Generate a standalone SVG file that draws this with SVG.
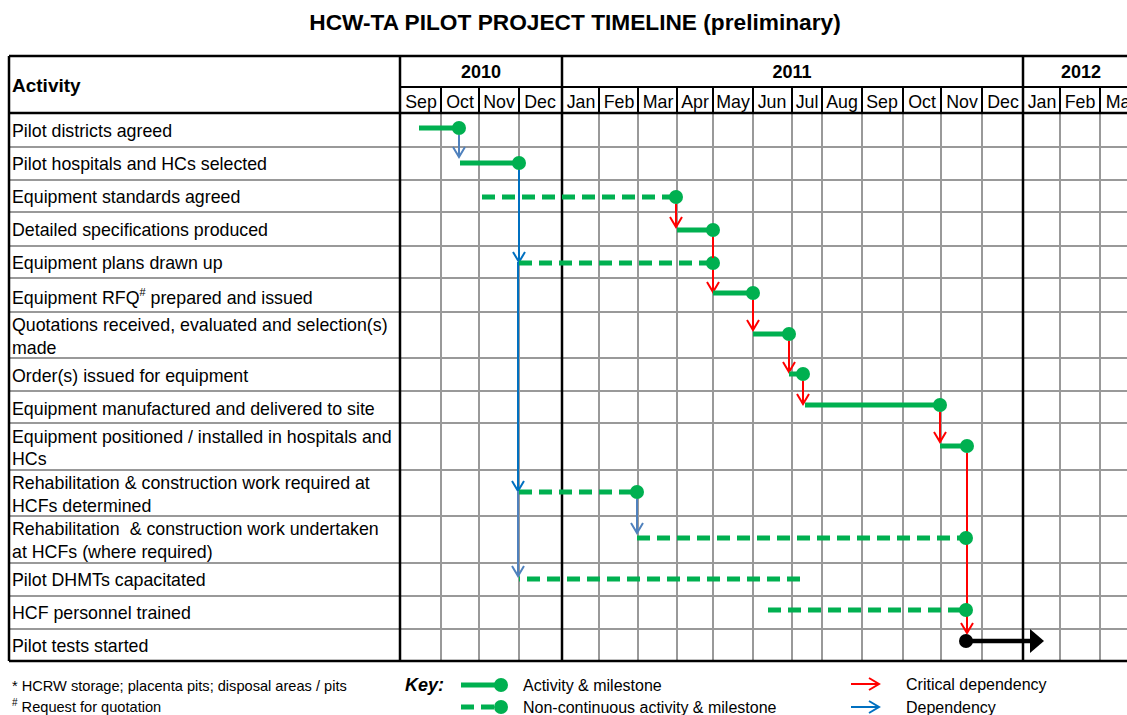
<svg xmlns="http://www.w3.org/2000/svg" width="1127" height="715" viewBox="0 0 1127 715">
<style>
text{font-family:"Liberation Sans",Arial,sans-serif;fill:#000}
.t{font-size:22.7px;font-weight:bold}
.lab{font-size:17.8px}
.hd{font-size:19px;font-weight:bold}
.mo{font-size:17.8px;text-anchor:middle}
.yr{font-size:18px;font-weight:bold;text-anchor:middle}
.fn{font-size:14.6px}
.key{font-size:16px}
.g{stroke:#999;stroke-width:2;fill:none}
.k{stroke:#000;stroke-width:2;fill:none}
.kk{stroke:#000;stroke-width:2.5;fill:none}
.bar{stroke:#00B050;stroke-width:5;fill:none}
.dash{stroke:#00B050;stroke-width:5;fill:none;stroke-dasharray:13 7}
.ms{fill:#00B050}
.red{stroke:#FF0000;stroke-width:2;fill:none}
.blue{stroke:#0070C0;stroke-width:2;fill:none}
.lblue{stroke:#4F81BD;stroke-width:2;fill:none}
</style>
<defs>
<marker id="ar" markerWidth="14" markerHeight="14" refX="11" refY="7" orient="auto" markerUnits="userSpaceOnUse"><path d="M1,1 L11,7 L1,13" fill="none" stroke="#FF0000" stroke-width="2"/></marker>
<marker id="ab" markerWidth="14" markerHeight="14" refX="11" refY="7" orient="auto" markerUnits="userSpaceOnUse"><path d="M1,1 L11,7 L1,13" fill="none" stroke="#0070C0" stroke-width="2"/></marker>
<marker id="alb" markerWidth="14" markerHeight="14" refX="11" refY="7" orient="auto" markerUnits="userSpaceOnUse"><path d="M1,1 L11,7 L1,13" fill="none" stroke="#4F81BD" stroke-width="2"/></marker>
</defs>
<rect width="1127" height="715" fill="#fff"/>
<text class="t" x="575" y="30" text-anchor="middle">HCW-TA PILOT PROJECT TIMELINE (preliminary)</text>

<g id="grid">
<path class="g" d="M441,113V661M479,113V661M519,113V661M599,113V661M638,113V661M677,113V661M713,113V661M753,113V661M792,113V661M822,113V661M862,113V661M903,113V661M941,113V661M982,113V661M1060,113V661M1100,113V661"/>
<path class="g" d="M9,147H1127M9,180H1127M9,212H1127M9,246H1127M9,278H1127M9,312H1127M9,358H1127M9,391H1127M9,423H1127M9,470H1127M9,516H1127M9,563H1127M9,596H1127M9,629H1127"/>
<path class="k" d="M400,87H1127M441,87V113M479,87V113M519,87V113M599,87V113M638,87V113M677,87V113M713,87V113M753,87V113M792,87V113M822,87V113M862,87V113M903,87V113M941,87V113M982,87V113M1060,87V113M1100,87V113"/>
<path class="kk" d="M9,56H1127M9,113H1127M9,661H1127M9,56V661M400,56V661M562,56V661M1023,56V661"/>
</g>

<g id="header">
<text class="hd" x="12" y="92">Activity</text>
<text class="yr" x="481" y="78">2010</text>
<text class="yr" x="792" y="78">2011</text>
<text class="yr" x="1081" y="78">2012</text>
<text class="mo" x="421" y="108">Sep</text>
<text class="mo" x="460" y="108">Oct</text>
<text class="mo" x="499" y="108">Nov</text>
<text class="mo" x="540" y="108">Dec</text>
<text class="mo" x="581" y="108">Jan</text>
<text class="mo" x="619" y="108">Feb</text>
<text class="mo" x="658" y="108">Mar</text>
<text class="mo" x="695" y="108">Apr</text>
<text class="mo" x="733" y="108">May</text>
<text class="mo" x="772" y="108">Jun</text>
<text class="mo" x="807" y="108">Jul</text>
<text class="mo" x="842" y="108">Aug</text>
<text class="mo" x="882" y="108">Sep</text>
<text class="mo" x="922" y="108">Oct</text>
<text class="mo" x="962" y="108">Nov</text>
<text class="mo" x="1003" y="108">Dec</text>
<text class="mo" x="1042" y="108">Jan</text>
<text class="mo" x="1080" y="108">Feb</text>
<text class="mo" x="1121" y="108">Mar</text>
</g>

<g id="labels">
<text class="lab" x="12" y="137">Pilot districts agreed</text>
<text class="lab" x="12" y="170">Pilot hospitals and HCs selected</text>
<text class="lab" x="12" y="203">Equipment standards agreed</text>
<text class="lab" x="12" y="236">Detailed specifications produced</text>
<text class="lab" x="12" y="269">Equipment plans drawn up</text>
<text class="lab" x="12" y="304">Equipment RFQ<tspan font-size="11" dy="-8">#</tspan><tspan dy="8"> prepared and issued</tspan></text>
<text class="lab" x="12" y="331">Quotations received, evaluated and selection(s)</text>
<text class="lab" x="12" y="354">made</text>
<text class="lab" x="12" y="382">Order(s) issued for equipment</text>
<text class="lab" x="12" y="415">Equipment manufactured and delivered to site</text>
<text class="lab" x="12" y="443">Equipment positioned / installed in hospitals and</text>
<text class="lab" x="12" y="465">HCs</text>
<text class="lab" x="12" y="489">Rehabilitation &amp; construction work required at</text>
<text class="lab" x="12" y="512">HCFs determined</text>
<text class="lab" x="12" y="535" xml:space="preserve">Rehabilitation  &amp; construction work undertaken</text>
<text class="lab" x="12" y="558">at HCFs (where required)</text>
<text class="lab" x="12" y="586">Pilot DHMTs capacitated</text>
<text class="lab" x="12" y="619">HCF personnel trained</text>
<text class="lab" x="12" y="652">Pilot tests started</text>
</g>

<g id="connectors">
<path class="lblue" d="M459,135V157" marker-end="url(#alb)"/>
<path class="blue" d="M519,170V262" marker-end="url(#ab)"/>
<path class="blue" d="M518,262V491" marker-end="url(#ab)"/>
<path class="lblue" d="M518,491V576" marker-end="url(#alb)"/>
<path class="lblue" d="M637,499V533" marker-end="url(#alb)"/>
<path class="red" d="M676,204V227" marker-end="url(#ar)"/>
<path class="red" d="M713,237V292" marker-end="url(#ar)"/>
<path class="red" d="M753,300V330" marker-end="url(#ar)"/>
<path class="red" d="M789,341V372" marker-end="url(#ar)"/>
<path class="red" d="M803,381V404" marker-end="url(#ar)"/>
<path class="red" d="M940,412V442" marker-end="url(#ar)"/>
<path class="red" d="M967,453V633" marker-end="url(#ar)"/>
</g>

<g id="bars">
<g id="r1"><path class="bar" d="M419,128H459"/><circle class="ms" cx="459" cy="128" r="7"/></g>
<g id="r2"><path class="bar" d="M460,163H519"/><circle class="ms" cx="519" cy="163" r="7"/></g>
<g id="r3"><path class="dash" d="M482,197H676"/><circle class="ms" cx="676" cy="197" r="7"/></g>
<g id="r4"><path class="bar" d="M677,230H713"/><circle class="ms" cx="713" cy="230" r="7"/></g>
<g id="r5"><path class="dash" d="M519,263H713"/><circle class="ms" cx="713" cy="263" r="7"/></g>
<g id="r6"><path class="bar" d="M713,293H753"/><circle class="ms" cx="753" cy="293" r="7"/></g>
<g id="r7"><path class="bar" d="M753,334H789"/><circle class="ms" cx="789" cy="334" r="7"/></g>
<g id="r8"><path class="bar" d="M789,374H803"/><circle class="ms" cx="803" cy="374" r="7"/></g>
<g id="r9"><path class="bar" d="M805,405H940"/><circle class="ms" cx="940" cy="405" r="7"/></g>
<g id="r10"><path class="bar" d="M940,446H967"/><circle class="ms" cx="967" cy="446" r="7"/></g>
<g id="r11"><path class="dash" d="M519,492H637"/><circle class="ms" cx="637" cy="492" r="7"/></g>
<g id="r12"><path class="dash" d="M637,538H966"/><circle class="ms" cx="966" cy="538" r="7"/></g>
<g id="r13"><path class="dash" d="M800,579H519"/></g>
<g id="r14"><path class="dash" d="M768,610H966"/><circle class="ms" cx="966" cy="610" r="7"/></g>
<g id="r15"><path d="M966,641H1031" stroke="#000" stroke-width="4.5" fill="none"/><circle cx="966" cy="641" r="7"/><path d="M1030,629L1044,641L1030,653Z"/></g>
</g>
<g id="redpass">
<path class="red" d="M967,453V520"/>
<path class="red" d="M713,237V258"/>
</g>

<g id="footnotes">
<text class="fn" x="12" y="691">* HCRW storage; placenta pits; disposal areas / pits</text>
<text class="fn" x="12" y="712"><tspan font-size="10" dy="-6">#</tspan><tspan dy="6"> Request for quotation</tspan></text>
</g>

<g id="key">
<text x="405" y="691" font-size="18" font-weight="bold" font-style="italic">Key:</text>
<path class="bar" d="M461,685H500"/><circle class="ms" cx="501" cy="685" r="7"/>
<text class="key" x="523" y="691">Activity &amp; milestone</text>
<path class="dash" d="M461,707H500" stroke-dasharray="13 6"/><circle class="ms" cx="501" cy="707" r="7"/>
<text class="key" x="523" y="713">Non-continuous activity &amp; milestone</text>
<path class="red" d="M851,684H879" marker-end="url(#ar)"/>
<text class="key" x="906" y="690">Critical dependency</text>
<path class="blue" d="M851,707H879" marker-end="url(#ab)"/>
<text class="key" x="906" y="713">Dependency</text>
</g>
</svg>
